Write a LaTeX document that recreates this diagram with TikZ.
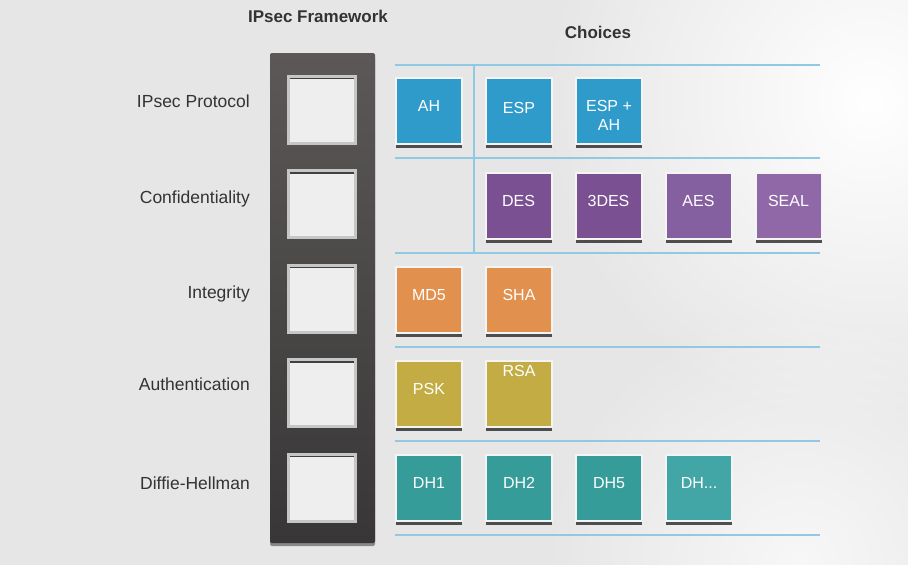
\documentclass[tikz,border=0pt]{standalone}
\usepackage{fontspec}
\setmainfont{Liberation Sans}
\usepackage{tikz}
\usetikzlibrary{positioning, shadows, fadings}

\definecolor{bggray}{HTML}{E6E6E6}
\definecolor{labeltext}{HTML}{333333}
\definecolor{frametop}{HTML}{5C5858}
\definecolor{framebot}{HTML}{383636}
\definecolor{slotfill}{HTML}{EEEEEE}
\definecolor{slotrim}{HTML}{C6C6C6}
\definecolor{rulecol}{HTML}{8FC9E3}
\definecolor{boxrim}{HTML}{F4F4F4}
\definecolor{protoblue}{HTML}{2E9BCB}
\definecolor{confpurple}{HTML}{7A5092}
\definecolor{aespurple}{HTML}{8560A0}
\definecolor{sealpurple}{HTML}{9068A8}
\definecolor{integorange}{HTML}{E2904E}
\definecolor{authyellow}{HTML}{C3AC43}
\definecolor{dhteal}{HTML}{359C9A}
\definecolor{dhlight}{HTML}{43A6A6}

\tikzfading[name=glowfade, inner color=transparent!0, outer color=transparent!100]

\begin{document}
\begin{tikzpicture}[
		x=1pt, y=-1pt,
		node distance=22pt,
		rowlabel/.style={
			anchor=east,
			inner xsep=0pt,
			text=labeltext,
			font=\fontsize{17.5}{20}\selectfont
		},
		heading/.style={
			text=labeltext,
			font=\bfseries\fontsize{17}{20}\selectfont
		},
		slot/.style={
			rectangle,
			fill=slotfill,
			draw=slotrim,
			line width=3pt,
			minimum width=67pt,
			minimum height=67pt,
			path picture={
				\draw[black!75, line width=2pt]
				([yshift=-2pt]path picture bounding box.north west) --
				([yshift=-2pt]path picture bounding box.north east);
			}
		},
		choice/.style={
			rectangle,
			draw=boxrim,
			line width=2pt,
			minimum width=66pt,
			minimum height=66pt,
			inner sep=2pt,
			text=white,
			text depth=11pt,
			align=center,
			font=\fontsize{16}{19}\selectfont,
			drop shadow={shadow xshift=0pt, shadow yshift=-4pt, fill=black!80, opacity=0.85}
		},
		rule/.style={
			draw=rulecol,
			line width=2.5pt
		},
		glow/.style={
			fill=white,
			path fading=glowfade
		}
	]
	
	% background
	\useasboundingbox (0,0) rectangle (908,565);
	\fill[bggray] (0,0) rectangle (908,565);
	\begin{scope}
		\clip (0,0) rectangle (908,565);
		\fill[glow] (870,100) circle (330pt);
		\fill[glow, opacity=0.7] (800,565) circle (260pt);
	\end{scope}
	
	% headings
	\node[heading] (fwtitle) at (318,16) {IPsec Framework};
	\node[heading] (choicetitle) at (598,32) {Choices};
	
	% framework column
	\node[rectangle, rounded corners=2pt, top color=frametop, bottom color=framebot,
		minimum width=105pt, minimum height=490pt,
		drop shadow={shadow xshift=0pt, shadow yshift=-3pt, fill=black!70, opacity=0.6}]
		(frame) at (322.5,298) {};
	\node[slot] (slotproto) at (322,109.5) {};
	\node[slot, below=24.5pt of slotproto] (slotconf) {};
	\node[slot, below=24.5pt of slotconf] (slotinteg) {};
	\node[slot, below=24.5pt of slotinteg] (slotauth) {};
	\node[slot, below=24.5pt of slotauth] (slotdh) {};
	
	% row labels
	\node[rowlabel] (lblproto) at (250,101) {IPsec Protocol};
	\node[rowlabel] (lblconf) at (250,199) {Confidentiality};
	\node[rowlabel] (lblinteg) at (250,294) {Integrity};
	\node[rowlabel] (lblauth) at (250,384) {Authentication};
	\node[rowlabel] (lbldh) at (250,483) {Diffie-Hellman};
	
	% separator lines
	\draw[rule] (395,65) -- (820,65);
	\draw[rule] (395,158) -- (820,158);
	\draw[rule] (395,253) -- (820,253);
	\draw[rule] (395,347) -- (820,347);
	\draw[rule] (395,441) -- (820,441);
	\draw[rule] (395,535) -- (820,535);
	\draw[rule] (474,65) -- (474,253);
	
	% choices
	\node[choice, fill=protoblue] (ah) at (429,111) {AH};
	\node[choice, fill=protoblue, right=of ah, text depth=6pt] (esp) {ESP};
	\node[choice, fill=protoblue, right=of esp, text height=38pt, text depth=0pt] (espah) {ESP +\\AH};
	
	\node[choice, fill=confpurple] (des) at (518.5,206) {DES};
	\node[choice, fill=confpurple, right=of des] (tdes) {3DES};
	\node[choice, fill=aespurple, right=of tdes] (aes) {AES};
	\node[choice, fill=sealpurple, right=of aes] (seal) {SEAL};
	
	\node[choice, fill=integorange] (md5) at (429,300) {MD5};
	\node[choice, fill=integorange, right=of md5] (sha) {SHA};
	
	\node[choice, fill=authyellow] (psk) at (429,394) {PSK};
	\node[choice, fill=authyellow, right=of psk, text depth=46pt] (rsa) {RSA};
	
	\node[choice, fill=dhteal] (dh1) at (429,488) {DH1};
	\node[choice, fill=dhteal, right=of dh1] (dh2) {DH2};
	\node[choice, fill=dhteal, right=of dh2] (dh5) {DH5};
	\node[choice, fill=dhlight, right=of dh5] (dhx) {DH...};
	
\end{tikzpicture}
\end{document}
